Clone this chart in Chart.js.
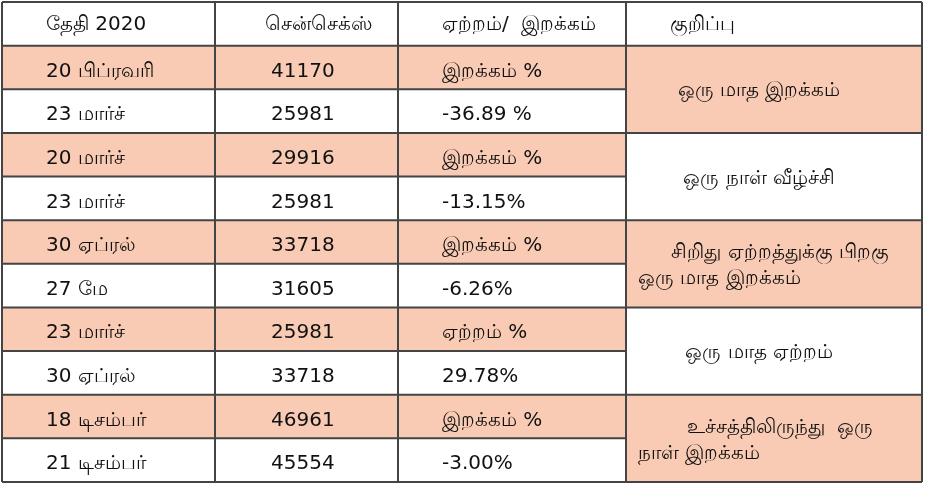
<!DOCTYPE html>
<html><head><meta charset="utf-8">
<script src="https://cdn.jsdelivr.net/npm/chart.js@4"></script>
<style>html,body{margin:0;padding:0;background:#fff}#c{display:block}</style>
</head><body>
<div style="width:927px;height:483px"><canvas id="c"></canvas></div>
<script>
// தரவு
const headers = ['தேதி 2020', 'சென்செக்ஸ்', 'ஏற்றம்/  இறக்கம்', 'குறிப்பு'];
const dates = ['20 பிப்ரவரி', '23 மார்ச்', '20 மார்ச்', '23 மார்ச்', '30 ஏப்ரல்', '27 மே', '23 மார்ச்', '30 ஏப்ரல்', '18 டிசம்பர்', '21 டிசம்பர்'];
const sensex = [41170, 25981, 29916, 25981, 33718, 31605, 25981, 33718, 46961, 45554];
const changes = ['இறக்கம் %', '-36.89 %', 'இறக்கம் %', '-13.15%', 'இறக்கம் %', '-6.26%', 'ஏற்றம் %', '29.78%', 'இறக்கம் %', '-3.00%'];
const notes = [['ஒரு மாத இறக்கம்'], ['ஒரு நாள் வீழ்ச்சி'], ['சிறிது ஏற்றத்துக்கு பிறகு', 'ஒரு மாத இறக்கம்'], ['ஒரு மாத ஏற்றம்'], ['உச்சத்திலிருந்து  ஒரு', 'நாள் இறக்கம்']];
const colEdges = [0, 213, 396, 624, 920];

const PEACH = '#f9cbb4';
const FONT = '20px "DejaVu Sans", "Noto Sans", sans-serif';

const tablePlugin = {
  id: 'table',
  afterDraw(chart) {
    const ctx = chart.ctx, xs = chart.scales.x, ys = chart.scales.y;
    const X = v => xs.getPixelForValue(v), Y = v => ys.getPixelForValue(v);
    ctx.save();
    for (let r = 0; r < dates.length; r++) {
      if (r % 2 === 0) {
        ctx.fillStyle = PEACH;
        ctx.fillRect(X(colEdges[0]), Y(r + 1), X(colEdges[3]) - X(colEdges[0]), Y(r + 2) - Y(r + 1));
      }
    }
    notes.forEach((n, g) => {
      if (g % 2 === 0) {
        ctx.fillStyle = PEACH;
        ctx.fillRect(X(colEdges[3]), Y(1 + g * 2), X(colEdges[4]) - X(colEdges[3]), Y(3 + g * 2) - Y(1 + g * 2));
      }
    });
    ctx.fillStyle = '#111';
    ctx.font = FONT;
    ctx.textBaseline = 'middle';
    ctx.textAlign = 'left';
    const pad = [44, 50, 44, 44];
    const dy = 4;
    headers.forEach((h, i) => ctx.fillText(h, X(colEdges[i]) + pad[i], Y(0.5) + 1));
    for (let r = 0; r < dates.length; r++) {
      const yc = Y(r + 1.5) + dy;
      ctx.fillText(dates[r], X(colEdges[0]) + pad[0], yc);
      ctx.fillText(String(sensex[r]), X(colEdges[1]) + pad[1] + 6, yc);
      ctx.fillText(changes[r], X(colEdges[2]) + pad[2], yc);
    }
    notes.forEach((lines, g) => {
      const mid = Y(2 + g * 2) + 2;
      const cx = (X(colEdges[3]) + X(colEdges[4])) / 2;
      lines.forEach((t, k) => {
        const y = mid + (k - (lines.length - 1) / 2) * 26;
        if (lines.length > 1) {
          ctx.textAlign = k === 0 ? 'center' : 'left';
          ctx.fillText(t, k === 0 ? cx + 6 : X(colEdges[3]) + 12, y);
        } else {
          ctx.textAlign = 'center';
          ctx.fillText(t, cx - 15, y);
        }
      });
    });
    ctx.strokeStyle = '#444';
    ctx.lineWidth = 2;
    ctx.beginPath();
    colEdges.forEach(c => { ctx.moveTo(X(c), Y(0)); ctx.lineTo(X(c), Y(11)); });
    for (let r = 0; r <= 11; r++) {
      const inner = r >= 2 && r <= 10 && r % 2 === 0;
      ctx.moveTo(X(colEdges[0]), Y(r));
      ctx.lineTo(X(inner ? colEdges[3] : colEdges[4]), Y(r));
    }
    ctx.stroke();
    ctx.restore();
  }
};

new Chart(document.getElementById('c'), {
  type: 'scatter',
  data: { datasets: [{ data: [] }] },
  options: {
    responsive: true,
    maintainAspectRatio: false,
    animation: false,
    events: [],
    layout: { padding: { left: 2, top: 2, right: 5, bottom: 1 } },
    plugins: { legend: { display: false }, tooltip: { enabled: false } },
    scales: {
      x: { type: 'linear', min: 0, max: 920, display: false },
      y: { type: 'linear', min: 0, max: 11, reverse: true, display: false }
    }
  },
  plugins: [tablePlugin]
});
</script>
</body></html>
